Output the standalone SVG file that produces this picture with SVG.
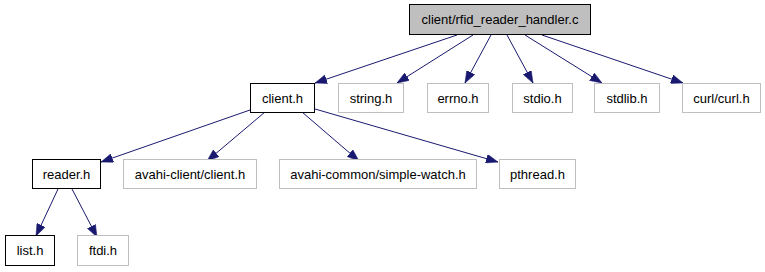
<svg xmlns="http://www.w3.org/2000/svg" width="765" height="272" viewBox="0 0 765 272">
  <style>
    .node rect { fill: #ffffff; stroke-width: 1; }
    .main rect { stroke: #000000; }
    .ext rect { stroke: #bfbfbf; }
    #root rect { fill: #bfbfbf; }
    text { font-family: "Liberation Sans", Arial, Helvetica, sans-serif; font-size: 13px; fill: #000000; text-anchor: middle; }
    .edge { stroke: #191970; stroke-width: 1; fill: none; marker-end: url(#arrow); }
  </style>
  <defs>
    <marker id="arrow" markerUnits="userSpaceOnUse" viewBox="0 0 12 9" refX="12" refY="4.5" markerWidth="12" markerHeight="9" orient="auto">
      <path d="M0,0 L12,4.5 L0,9 z" fill="#191970" stroke="#191970" stroke-width="0.5"/>
    </marker>
  </defs>
  <rect width="765" height="272" fill="#ffffff"/>

  <g id="connectors">
    <line class="edge" x1="457" y1="35" x2="315" y2="83"/>
    <line class="edge" x1="473" y1="35" x2="397" y2="83"/>
    <line class="edge" x1="491" y1="35" x2="465" y2="83"/>
    <line class="edge" x1="507" y1="35" x2="533" y2="83"/>
    <line class="edge" x1="525" y1="35" x2="602" y2="83"/>
    <line class="edge" x1="542" y1="35" x2="683" y2="83"/>
    <line class="edge" x1="250" y1="110" x2="101" y2="162"/>
    <line class="edge" x1="265" y1="112" x2="207" y2="161"/>
    <line class="edge" x1="302" y1="112" x2="359" y2="161"/>
    <line class="edge" x1="315" y1="109" x2="498" y2="162"/>
    <line class="edge" x1="58" y1="189" x2="36" y2="236"/>
    <line class="edge" x1="72" y1="189" x2="97" y2="237"/>
  </g>

  <g id="root" class="node main">
    <rect x="409.5" y="4.5" width="181" height="30"/>
    <text x="500" y="24">client/rfid_reader_handler.c</text>
  </g>

  <g id="client_h" class="node main">
    <rect x="250.5" y="83.5" width="64" height="29"/>
    <text x="282.5" y="102.5">client.h</text>
  </g>
  <g id="string_h" class="node ext">
    <rect x="338.5" y="83.5" width="65" height="29"/>
    <text x="371" y="102.5">string.h</text>
  </g>
  <g id="errno_h" class="node ext">
    <rect x="427.5" y="83.5" width="61" height="29"/>
    <text x="458" y="102.5">errno.h</text>
  </g>
  <g id="stdio_h" class="node ext">
    <rect x="512.5" y="83.5" width="60" height="29"/>
    <text x="542.5" y="102.5">stdio.h</text>
  </g>
  <g id="stdlib_h" class="node ext">
    <rect x="594.5" y="83.5" width="65" height="29"/>
    <text x="627" y="102.5">stdlib.h</text>
  </g>
  <g id="curl_h" class="node ext">
    <rect x="682.5" y="83.5" width="78" height="29"/>
    <text x="721.5" y="102.5">curl/curl.h</text>
  </g>

  <g id="reader_h" class="node main">
    <rect x="32.5" y="159.5" width="68" height="29"/>
    <text x="66.5" y="178.5">reader.h</text>
  </g>
  <g id="avahi_client_h" class="node ext">
    <rect x="123.5" y="159.5" width="133" height="29"/>
    <text x="190" y="178.5">avahi-client/client.h</text>
  </g>
  <g id="simple_watch_h" class="node ext">
    <rect x="279.5" y="159.5" width="197" height="29"/>
    <text x="378" y="178.5">avahi-common/simple-watch.h</text>
  </g>
  <g id="pthread_h" class="node ext">
    <rect x="499.5" y="159.5" width="76" height="29"/>
    <text x="537.5" y="178.5">pthread.h</text>
  </g>

  <g id="list_h" class="node main">
    <rect x="5.5" y="235.5" width="49" height="30"/>
    <text x="30" y="255">list.h</text>
  </g>
  <g id="ftdi_h" class="node ext">
    <rect x="77.5" y="235.5" width="51" height="30"/>
    <text x="103" y="255">ftdi.h</text>
  </g>
</svg>
